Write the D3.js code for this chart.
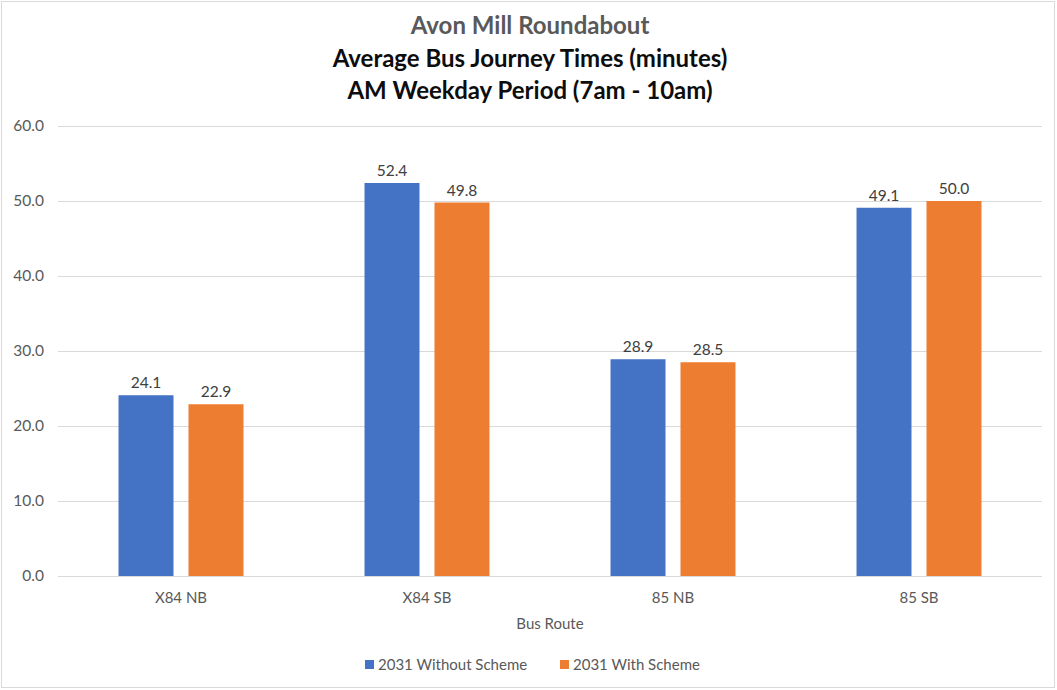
<!DOCTYPE html>
<html>
<head>
<meta charset="utf-8">
<script src="https://cdn.jsdelivr.net/npm/d3@7"></script>
<style>
  body { margin: 0; background: #fff; }
  text { font-family: Lato, "Open Sans", sans-serif; }
</style>
</head>
<body>
<div class="chart"></div>
<script>
// data
var routes = ["X84 NB", "X84 SB", "85 NB", "85 SB"];
var seriesNames = ["2031 Without Scheme", "2031 With Scheme"];
var withoutScheme = [24.1, 52.4, 28.9, 49.1];
var withScheme = [22.9, 49.8, 28.5, 50.0];
var yTicks = [0, 10, 20, 30, 40, 50, 60];
var colors = ["#4472C4", "#ED7D31"];

var svgWidth = 1057, svgHeight = 690;
var margin = {top: 126, right: 15, bottom: 114, left: 58};
var width = svgWidth - margin.left - margin.right;   // 984
var height = svgHeight - margin.top - margin.bottom; // 450

var svg = d3.select(".chart").append("svg")
  .attr("width", svgWidth).attr("height", svgHeight);

// outer border
svg.append("rect").attr("x", 1.5).attr("y", 1.5)
  .attr("width", svgWidth - 4).attr("height", svgHeight - 4)
  .attr("fill", "#fff").attr("stroke", "#d9d9d9");

// titles
var titles = [
  {t: "Avon Mill Roundabout", c: "#595959", y: 34},
  {t: "Average Bus Journey Times (minutes)", c: "#0d0d0d", y: 67},
  {t: "AM Weekday Period (7am - 10am)", c: "#0d0d0d", y: 99}
];
svg.selectAll(".title").data(titles).enter().append("text")
  .attr("class", "title")
  .attr("x", 530).attr("y", function(d){ return d.y; })
  .attr("text-anchor", "middle")
  .attr("font-size", "24px").attr("font-weight", "bold")
  .attr("fill", function(d){ return d.c; })
  .text(function(d){ return d.t; });

var chart = svg.append("g").attr("transform", `translate(${margin.left}, ${margin.top})`);

var x0 = d3.scaleBand().domain(routes).range([0, width]).paddingInner(0.492).paddingOuter(0.246);
var x1 = d3.scaleBand().domain([0, 1]).range([0, x0.bandwidth()]).paddingInner(0.2143);
var yScale = d3.scaleLinear().domain([0, 60]).range([height, 0]);

// gridlines
chart.selectAll(".grid").data(yTicks).enter().append("line")
  .attr("x1", 0).attr("x2", width)
  .attr("y1", function(d){ return yScale(d) + 0.5; })
  .attr("y2", function(d){ return yScale(d) + 0.5; })
  .attr("stroke", "#d9d9d9").attr("stroke-width", 1);

// y axis labels
var yAxis = d3.axisLeft(yScale).tickValues(yTicks).tickFormat(d3.format(".1f")).tickSize(0).tickPadding(14);
chart.append("g").call(yAxis)
  .call(function(g){ g.select(".domain").remove(); })
  .selectAll("text").attr("font-size", "15.5px").attr("fill", "#595959")
  .style("font-family", "Lato, 'Open Sans', sans-serif");

// bars
var rows = routes.map(function(r, i){ return {route: r, vals: [withoutScheme[i], withScheme[i]]}; });
var groups = chart.selectAll(".grp").data(rows).enter().append("g")
  .attr("transform", function(d){ return `translate(${x0(d.route)},0)`; });

groups.selectAll("rect").data(function(d){ return d.vals; }).enter().append("rect")
  .attr("x", function(d, i){ return x1(i); })
  .attr("y", function(d){ return yScale(d); })
  .attr("width", x1.bandwidth())
  .attr("height", function(d){ return height - yScale(d); })
  .attr("fill", function(d, i){ return colors[i]; });

groups.selectAll(".val").data(function(d){ return d.vals; }).enter().append("text")
  .attr("class", "val")
  .attr("x", function(d, i){ return x1(i) + x1.bandwidth() / 2; })
  .attr("y", function(d){ return yScale(d) - 7; })
  .attr("text-anchor", "middle")
  .attr("font-size", "15.5px").attr("fill", "#404040")
  .text(function(d){ return d.toFixed(1); });

// x axis line + labels
chart.append("line").attr("x1", 0).attr("x2", width)
  .attr("y1", height + 0.5).attr("y2", height + 0.5)
  .attr("stroke", "#d9d9d9");

var xAxis = d3.axisBottom(x0).tickSize(0).tickPadding(16);
chart.append("g").attr("transform", `translate(0, ${height})`).call(xAxis)
  .call(function(g){ g.select(".domain").remove(); })
  .selectAll("text").attr("font-size", "15px").attr("fill", "#595959")
  .style("font-family", "Lato, 'Open Sans', sans-serif");

chart.append("text")
  .attr("x", width / 2).attr("y", height + 53)
  .attr("text-anchor", "middle").attr("font-size", "15px").attr("fill", "#595959")
  .text("Bus Route");

// legend
var legend = svg.append("g").attr("transform", "translate(365, 665)");
var legendX = [0, 195];
seriesNames.forEach(function(name, i){
  var g = legend.append("g").attr("transform", `translate(${legendX[i]},0)`);
  g.append("rect").attr("x", 0).attr("y", -5).attr("width", 9).attr("height", 9).attr("fill", colors[i]);
  g.append("text").attr("x", 13).attr("y", 5)
    .attr("font-size", "15px").attr("fill", "#595959").text(name);
});
</script>
</body>
</html>
